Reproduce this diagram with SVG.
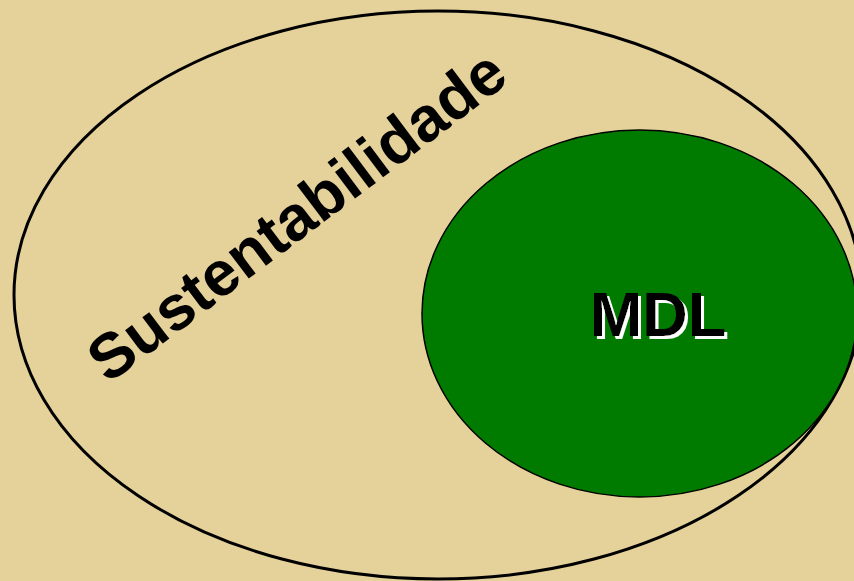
<svg xmlns="http://www.w3.org/2000/svg" width="854" height="581" viewBox="0 0 854 581">
<style>
.lbl{font-family:"Liberation Sans",Arial,sans-serif;font-weight:bold;}
</style>
<defs>
<filter id="wshadow" x="-10%" y="-10%" width="130%" height="130%">
<feOffset in="SourceAlpha" dx="3" dy="3" result="off"/>
<feFlood flood-color="#FFFFFF"/>
<feComposite in2="off" operator="in" result="sh"/>
<feMerge><feMergeNode in="sh"/><feMergeNode in="SourceGraphic"/></feMerge>
</filter>
</defs>
<rect width="854" height="581" fill="#E5D19A"/>
<g id="sustentabilidade">
<ellipse cx="438" cy="295" rx="424" ry="284" fill="none" stroke="#000" stroke-width="3"/>
<text class="lbl" font-size="63" text-anchor="middle" transform="translate(297,216) rotate(-37)" y="21" fill="#000">Sustentabilidade</text>
</g>
<g id="mdl">
<ellipse cx="639.5" cy="313.5" rx="217.5" ry="183.5" fill="#007B00" stroke="#000" stroke-width="1.5"/>
<text class="lbl" font-size="63" text-anchor="middle" x="658" y="336" fill="#000" filter="url(#wshadow)">MDL</text>
</g>
</svg>
